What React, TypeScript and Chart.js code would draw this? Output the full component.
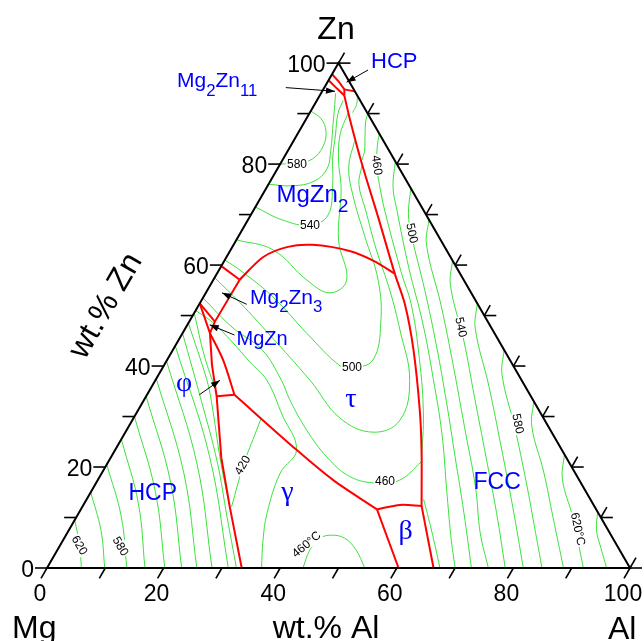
import React, { useEffect, useRef } from "react";
import { Chart, registerables } from "chart.js";

Chart.register(...registerables);

type TP = [number, number]; // [wt.% Al, wt.% Zn]

const SQ = Math.sqrt(3) / 2;
const X_MIN = -8.062;
const X_MAX = 102.4;
const Y_MIN = -12.522;
const Y_MAX = 97.427;

const tickValues = [0, 10, 20, 30, 40, 50, 60, 70, 80, 90, 100];
const tickLabels = [0, 20, 40, 60, 80, 100];

// ---------- phase boundaries (red) ----------
const redLeft: TP[] = [[0, 52.4], [4.7, 46.5], [8.2, 40.2], [12.1, 34.0], [19.0, 21.8], [25.3, 12.1], [33.4, 0]];
const redMgZnTop: TP[] = [[0, 52.4], [4.4, 48.8]];
const redMg2Zn3Low: TP[] = [[4.5, 57.1], [4.4, 48.8], [4.7, 46.5]];
const redMg2Zn3Top: TP[] = [[0, 59.8], [4.5, 57.1]];
const redTauArc: TP[] = [[4.5, 57.1], [6.3, 61.6], [9.5, 63.6], [13.5, 64.0], [20.5, 62.8], [25.7, 60.8], [30.5, 58.3]];
const redPhiRight: TP[] = [[4.7, 46.5], [9.6, 41.2], [15.0, 34.3]];
const redPhiLow: TP[] = [[12.1, 34.0], [15.0, 34.3]];
const redGammaTau: TP[] = [[15.0, 34.3], [31.1, 23.4], [40.4, 17.4], [50.8, 11.6]];
const redBetaTop: TP[] = [[50.8, 11.6], [54.3, 12.5], [58.1, 12.3]];
const redBetaLeft: TP[] = [[50.8, 11.6], [60.3, 0]];
const redFccLow: TP[] = [[58.1, 12.3], [66.3, 0]];
const redTauRight: TP[] = [[58.1, 12.3], [52.8, 22.9], [48.4, 31.1], [41.2, 43.3], [35.3, 52.2], [30.5, 58.3], [22.2, 69.3], [14.1, 79.9], [7.5, 88.9], [4.2, 93.6]];
const redMg2Zn11A: TP[] = [[0, 96.6], [2.2, 95.0], [4.2, 93.6]];
const redMg2Zn11B: TP[] = [[0, 97.8], [1.8, 96.4], [3.6, 94.8], [4.2, 93.6]];
const redHcpZn: TP[] = [[3.6, 94.8], [5.6, 94.4]];

// ---------- liquidus isotherms (green) ----------
// Mg-rich HCP field
const iso620hcp: TP[] = [[5.9, 0], [3.2, 4.75], [0, 9.5]];
const iso600hcp: TP[] = [[9.9, 0], [5.5, 7.5], [0, 15]];
const iso580hcp: TP[] = [[13.7, 0], [7.6, 10.25], [0, 20.5]];
const iso560hcp: TP[] = [[16.8, 0], [9.3, 12.75], [0, 25.5]];
const iso540hcp: TP[] = [[20.2, 0], [11.1, 15], [0, 30]];
const iso520hcp: TP[] = [[23.1, 0], [12.7, 17], [0, 34]];
const iso500hcp: TP[] = [[25.7, 0], [14.1, 18.75], [0, 37.5]];
const iso480hcp: TP[] = [[28.3, 0], [15.5, 20.5], [0, 41]];
const iso460hcp: TP[] = [[31.1, 0], [16.9, 22], [0, 44]];
const iso440hcp: TP[] = [[0, 46.5], [10, 33], [18.7, 21], [25.9, 10], [32.5, 0]];
const iso420hcp: TP[] = [[0, 48.5], [8.6, 37.5], [11.7, 33], [19.3, 21], [25.3, 12.1]];
const iso400hcp: TP[] = [[0, 50.5], [6, 42], [11.5, 35]];
// gamma field
const iso420gam: TP[] = [[25.6, 12.1], [23.5, 20.4], [22.3, 27.3], [21.9, 29.7]];
const iso440gam: TP[] = [[36.8, 0], [34.3, 5.5], [32.3, 10.9], [30.6, 18.8], [31.1, 23.4], [25.2, 30.3], [19.1, 37.2], [14.4, 40.8], [9.4, 44.75], [4.0, 48.7], [0, 51]];
const iso460gam: TP[] = [[43.9, 0], [43.3, 3.6], [43.9, 5.9], [45.5, 6.5], [48.1, 5.9], [51.2, 3.6], [54.5, 0]];
// tau / MgZn2 fields
const iso460tau: TP[] = [[0, 53.5], [7.9, 47.7], [15.3, 43.2], [21.6, 37.2], [25.0, 33.3], [30.9, 27.3], [37.0, 22.0], [42.9, 18.1], [48.2, 16.8], [51.8, 17.4], [53.7, 21.05]];
const iso480tau: TP[] = [[0, 57.5], [6.9, 52.5], [15.2, 46.1], [26.5, 37.2], [35.4, 29.7], [42.5, 26.9], [45.9, 29.3], [43.6, 37.2], [37.0, 47.1], [31.3, 55], [25.0, 63], [19.2, 70.9], [15.5, 76], [14.2, 79.6]];
const iso500tau: TP[] = [[0, 61], [3.6, 59.0], [11.9, 53.7], [21.3, 46.5], [30.3, 40.0], [32.5, 39.6], [35.3, 41.2], [33.0, 48.5], [28.3, 57], [21.5, 65.9], [15.5, 73.9], [12.0, 79.5], [10.5, 84.5]];
const iso520mz: TP[] = [[0, 65], [7.3, 63.0], [16.1, 57.0], [21.3, 54.5], [22.9, 57.0], [17.5, 65.0], [13.0, 74.9], [9.5, 81], [7.3, 86], [6.6, 90]];
const iso540mz: TP[] = [[0, 71.5], [6.0, 68.9], [11.2, 67.9], [13.25, 69.9], [11.0, 76], [8.5, 81], [6.5, 86], [4.9, 90], [4.5, 92.6]];
const iso560mz: TP[] = [[0, 76], [4.2, 75.7], [7.5, 76.6], [8.5, 79], [7.2, 83], [5.5, 87], [3.8, 91], [2.5, 94]];
const iso580mz: TP[] = [[0, 80], [2.8, 80.2], [5.0, 81], [5.6, 83.5], [4.6, 86.5], [2.5, 89], [0, 90.5]];
// Al-rich FCC field
const iso420fcc: TP[] = [[6.5, 93.5], [7.2, 91.8], [7.3, 90.2]];
const iso440fcc: TP[] = [[10, 90], [10.5, 88.3], [11.8, 85.5], [13.2, 82.5], [13.6, 80.8]];
const iso460fcc: TP[] = [[14, 86], [14.9, 83.5], [16.9, 79.4], [20, 74.5], [23.6, 69.3], [31.6, 58.4], [36.3, 52.3], [42.1, 43.2], [49.0, 31.1], [53.7, 21.05]];
const iso450fcc: TP[] = [[57.8, 13.6], [62.2, 7.5], [67.4, 0]];
const iso480fcc: TP[] = [[19.5, 80.5], [21.6, 75.5], [24.5, 71], [32.3, 59.5], [40.2, 48.5], [47.5, 37.5], [54.5, 26.5], [60.8, 15.5], [66.3, 6], [70, 0]];
const iso500fcc: TP[] = [[24.8, 75.2], [26.9, 70.2], [29.5, 66], [37.3, 55], [44.8, 44], [52, 33], [59, 22], [66, 11], [72.8, 0]];
const iso520fcc: TP[] = [[31, 69], [33.1, 64], [41.6, 52], [49.7, 40], [57.6, 28], [65.5, 16], [70.8, 7], [75.7, 0]];
const iso540fcc: TP[] = [[39.1, 60.9], [41.2, 56], [49, 45], [56.3, 34], [64.3, 22], [71.6, 11], [78.6, 0]];
const iso560fcc: TP[] = [[47.6, 52.4], [49.7, 47.5], [57.8, 36], [65.9, 24], [73.9, 12], [81.7, 0]];
const iso580fcc: TP[] = [[56.8, 43.2], [58.9, 38.3], [66.2, 28], [73.7, 17], [80.3, 7], [84.9, 0]];
const iso600fcc: TP[] = [[67, 33], [69.1, 28.1], [75.7, 19], [81.8, 10], [88.6, 0]];
const iso620fcc: TP[] = [[77.5, 22.5], [79.6, 17.6], [85.2, 10], [92, 0]];
const iso640fcc: TP[] = [[88.9, 11.1], [90.5, 7.5], [93, 4], [96, 0]];

const greenLines: TP[][] = [
  iso620hcp, iso600hcp, iso580hcp, iso560hcp, iso540hcp, iso520hcp, iso500hcp, iso480hcp, iso460hcp,
  iso440hcp, iso420hcp, iso400hcp, iso420gam, iso440gam, iso460gam,
  iso460tau, iso480tau, iso500tau, iso520mz, iso540mz, iso560mz, iso580mz,
  iso420fcc, iso440fcc, iso460fcc, iso450fcc, iso480fcc, iso500fcc, iso520fcc, iso540fcc,
  iso560fcc, iso580fcc, iso600fcc, iso620fcc, iso640fcc,
];
const redCurved: TP[][] = [redTauArc, redTauRight, redGammaTau, redPhiRight, redBetaTop];
const redStraight: TP[][] = [redLeft, redMgZnTop, redMg2Zn3Low, redMg2Zn3Top, redPhiLow, redBetaLeft, redFccLow, redMg2Zn11A, redMg2Zn11B, redHcpZn];

const toXY = (p: TP) => ({ x: p[0] + p[1] / 2, y: p[1] * SQ });

const SANS = "'Liberation Sans', Arial, sans-serif";
const SERIF = "'Liberation Serif', 'Times New Roman', serif";
const BLUE = "#0000ff";

function chem(ctx: CanvasRenderingContext2D, parts: [string, boolean][], x: number, y: number, size: number) {
  let cx = x;
  ctx.textAlign = "left";
  ctx.textBaseline = "alphabetic";
  ctx.fillStyle = BLUE;
  for (const [t, sub] of parts) {
    const fs = sub ? size * 0.8 : size;
    ctx.font = `${fs}px ${SANS}`;
    ctx.fillText(t, cx, sub ? y + size * 0.42 : y);
    cx += ctx.measureText(t).width;
  }
}

function clabel(ctx: CanvasRenderingContext2D, s: string, x: number, y: number, angle: number) {
  ctx.save();
  ctx.translate(x, y);
  ctx.rotate((angle * Math.PI) / 180);
  ctx.font = `12px ${SANS}`;
  const w = ctx.measureText(s).width;
  ctx.fillStyle = "#ffffff";
  ctx.fillRect(-w / 2 - 1, -6, w + 2, 12);
  ctx.fillStyle = "#000000";
  ctx.textAlign = "center";
  ctx.textBaseline = "middle";
  ctx.fillText(s, 0, 1);
  ctx.restore();
}

function arrow(ctx: CanvasRenderingContext2D, x1: number, y1: number, x2: number, y2: number) {
  ctx.save();
  ctx.strokeStyle = "#000";
  ctx.fillStyle = "#000";
  ctx.lineWidth = 1;
  ctx.beginPath();
  ctx.moveTo(x1, y1);
  ctx.lineTo(x2, y2);
  ctx.stroke();
  const a = Math.atan2(y2 - y1, x2 - x1);
  const L = 9, W = 3.2;
  ctx.beginPath();
  ctx.moveTo(x2, y2);
  ctx.lineTo(x2 - L * Math.cos(a) + W * Math.sin(a), y2 - L * Math.sin(a) - W * Math.cos(a));
  ctx.lineTo(x2 - L * Math.cos(a) - W * Math.sin(a), y2 - L * Math.sin(a) + W * Math.cos(a));
  ctx.closePath();
  ctx.fill();
  ctx.restore();
}

const framePlugin = {
  id: "ternaryFrame",
  afterDatasetsDraw(chart: any) {
    const ctx: CanvasRenderingContext2D = chart.ctx;
    const xs = chart.scales.x;
    const ys = chart.scales.y;
    const P = (al: number, zn: number): [number, number] => [xs.getPixelForValue(al + zn / 2), ys.getPixelForValue(zn * SQ)];
    const seg = (x1: number, y1: number, x2: number, y2: number) => {
      ctx.beginPath();
      ctx.moveTo(x1, y1);
      ctx.lineTo(x2, y2);
      ctx.stroke();
    };
    ctx.save();
    ctx.strokeStyle = "#000";
    ctx.lineCap = "butt";
    // ticks
    ctx.lineWidth = 1.6;
    for (const v of tickValues) {
      let [x, y] = P(v, 0);
      seg(x, y, x - 6, y + 10.4);
      [x, y] = P(0, v);
      seg(x, y, x - 12, y);
      [x, y] = P(100 - v, v);
      seg(x, y, x + 12, y);
      seg(x, y, x + 6, y - 10.4);
    }
    // triangle
    ctx.lineWidth = 2;
    const A = P(0, 0), B = P(100, 0), C = P(0, 100);
    ctx.beginPath();
    ctx.moveTo(A[0], A[1]);
    ctx.lineTo(B[0], B[1]);
    ctx.lineTo(C[0], C[1]);
    ctx.closePath();
    ctx.stroke();

    // tick labels
    ctx.fillStyle = "#000";
    ctx.font = `23px ${SANS}`;
    for (const v of tickLabels) {
      let [x, y] = P(v, 0);
      ctx.textAlign = "center";
      ctx.textBaseline = "middle";
      ctx.fillText(String(v), x - 7, y + 27);
      [x, y] = P(0, v);
      ctx.textAlign = "right";
      ctx.fillText(String(v), x - 13, y + 3);
    }

    // axis titles
    ctx.font = `32px ${SANS}`;
    ctx.textBaseline = "alphabetic";
    ctx.textAlign = "center";
    ctx.fillText("Zn", 336, 39);
    ctx.fillText("wt.% Al", 326, 638);
    ctx.textAlign = "left";
    ctx.fillText("Mg", 12, 638);
    ctx.fillText("Al", 608, 639);
    ctx.save();
    ctx.translate(106, 306);
    ctx.rotate(-Math.PI / 3);
    ctx.textAlign = "center";
    ctx.textBaseline = "middle";
    ctx.fillText("wt.% Zn", 0, 0);
    ctx.restore();

    // contour labels
    clabel(ctx, "580", 297, 163.5, 0);
    clabel(ctx, "540", 310, 224.5, 0);
    clabel(ctx, "500", 352, 366.5, 0);
    clabel(ctx, "460", 385, 480.5, 0);
    clabel(ctx, "420", 242, 465, -60);
    clabel(ctx, "460°C", 306, 544, -40);
    clabel(ctx, "620", 80, 545, 60);
    clabel(ctx, "580", 121, 546, 60);
    clabel(ctx, "460", 377.5, 165, 82);
    clabel(ctx, "500", 412.5, 233, 78);
    clabel(ctx, "540", 461.5, 327, 78);
    clabel(ctx, "580", 518.5, 423.5, 78);
    clabel(ctx, "620°C", 578.5, 529, 78);

    // phase labels
    chem(ctx, [["HCP", false]], 371, 67.5, 22);
    chem(ctx, [["Mg", false], ["2", true], ["Zn", false], ["11", true]], 177, 87, 21);
    chem(ctx, [["MgZn", false], ["2", true]], 276.5, 202, 24);
    chem(ctx, [["Mg", false], ["2", true], ["Zn", false], ["3", true]], 250, 303.5, 21);
    chem(ctx, [["MgZn", false]], 236.5, 345, 20);
    chem(ctx, [["HCP", false]], 128.5, 500, 23);
    chem(ctx, [["FCC", false]], 473.5, 488.5, 23);
    ctx.font = `28px ${SERIF}`;
    ctx.fillStyle = BLUE;
    ctx.textAlign = "center";
    ctx.textBaseline = "alphabetic";
    ctx.fillText("φ", 184.2, 391);
    ctx.fillText("τ", 350.8, 406.5);
    ctx.fillText("γ", 287.5, 500);
    ctx.fillText("β", 405.5, 538.5);

    // pointer arrows
    arrow(ctx, 368, 70, 346.6, 82.2);
    arrow(ctx, 285.8, 87.6, 335, 91.3);
    arrow(ctx, 246.7, 304.3, 222, 292.8);
    arrow(ctx, 234.4, 335, 209.7, 324.8);
    arrow(ctx, 199.4, 394.7, 220, 380.3);
    ctx.restore();
  },
};

export default function App() {
  const ref = useRef<HTMLCanvasElement | null>(null);
  useEffect(() => {
    if (!ref.current) return;
    const datasets: any[] = [];
    for (const g of greenLines) {
      datasets.push({ data: g.map(toXY), showLine: true, borderColor: "#3be23b", borderWidth: 1, pointRadius: 0, tension: 0.4, fill: false, order: 3 });
    }
    for (const r of redCurved) {
      datasets.push({ data: r.map(toXY), showLine: true, borderColor: "#ff0000", borderWidth: 2, pointRadius: 0, tension: 0.3, fill: false, order: 2 });
    }
    for (const r of redStraight) {
      datasets.push({ data: r.map(toXY), showLine: true, borderColor: "#ff0000", borderWidth: 2, pointRadius: 0, tension: 0, fill: false, order: 2 });
    }
    const chart = new Chart(ref.current, {
      type: "scatter",
      data: { datasets },
      options: {
        animation: false,
        responsive: false,
        maintainAspectRatio: false,
        events: [],
        layout: { padding: 0, autoPadding: false },
        plugins: { legend: { display: false }, tooltip: { enabled: false }, title: { display: false } },
        scales: {
          x: { type: "linear", min: X_MIN, max: X_MAX, display: false },
          y: { type: "linear", min: Y_MIN, max: Y_MAX, display: false },
        },
        elements: { point: { radius: 0 }, line: { capBezierPoints: true } },
      },
      plugins: [framePlugin],
    } as any);
    return () => chart.destroy();
  }, []);
  return (
    <div style={{ position: "absolute", left: 0, top: 0, width: 644, height: 641, background: "#ffffff" }}>
      <canvas ref={ref} width={644} height={641} style={{ display: "block", width: 644, height: 641 }} />
    </div>
  );
}
